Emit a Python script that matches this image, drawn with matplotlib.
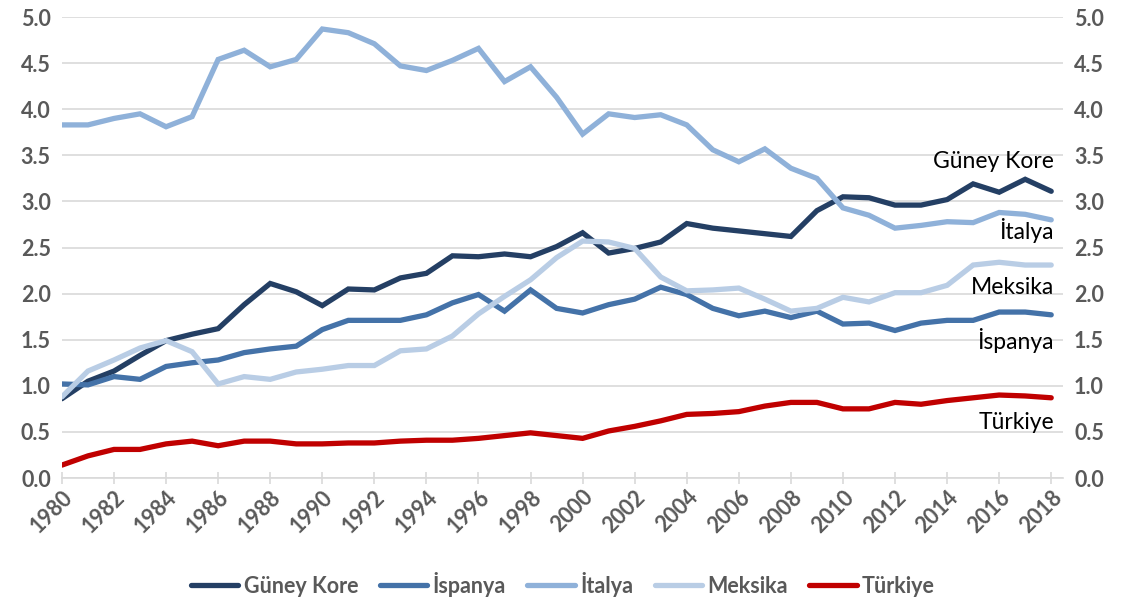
import matplotlib
matplotlib.use("Agg")
import matplotlib.pyplot as plt
from matplotlib.ticker import MultipleLocator, FormatStrFormatter

years = list(range(1980, 2019))

guney_kore = [0.86, 1.05, 1.16, 1.33, 1.49, 1.56, 1.62, 1.88, 2.11, 2.02,
              1.87, 2.05, 2.04, 2.17, 2.22, 2.41, 2.40, 2.43, 2.40, 2.51,
              2.66, 2.44, 2.49, 2.56, 2.76, 2.71, 2.68, 2.65, 2.62, 2.90,
              3.05, 3.04, 2.96, 2.96, 3.02, 3.19, 3.10, 3.24, 3.11]
ispanya = [1.02, 1.01, 1.10, 1.07, 1.21, 1.25, 1.28, 1.36, 1.40, 1.43,
           1.61, 1.71, 1.71, 1.71, 1.77, 1.90, 1.99, 1.81, 2.04, 1.84,
           1.79, 1.88, 1.94, 2.07, 1.99, 1.84, 1.76, 1.81, 1.74, 1.81,
           1.67, 1.68, 1.60, 1.68, 1.71, 1.71, 1.80, 1.80, 1.77]
italya = [3.83, 3.83, 3.90, 3.95, 3.81, 3.92, 4.54, 4.64, 4.46, 4.54,
          4.87, 4.83, 4.71, 4.47, 4.42, 4.53, 4.66, 4.30, 4.46, 4.13,
          3.73, 3.95, 3.91, 3.94, 3.83, 3.56, 3.43, 3.57, 3.36, 3.25,
          2.93, 2.85, 2.71, 2.74, 2.78, 2.77, 2.88, 2.86, 2.80]
meksika = [0.88, 1.16, 1.28, 1.41, 1.49, 1.37, 1.02, 1.10, 1.07, 1.15,
           1.18, 1.22, 1.22, 1.38, 1.40, 1.54, 1.78, 1.97, 2.15, 2.39,
           2.57, 2.56, 2.49, 2.18, 2.03, 2.04, 2.06, 1.94, 1.81, 1.84,
           1.96, 1.91, 2.01, 2.01, 2.09, 2.31, 2.34, 2.31, 2.31]
turkiye = [0.14, 0.24, 0.31, 0.31, 0.37, 0.40, 0.35, 0.40, 0.40, 0.37,
           0.37, 0.38, 0.38, 0.40, 0.41, 0.41, 0.43, 0.46, 0.49, 0.46,
           0.43, 0.51, 0.56, 0.62, 0.69, 0.70, 0.72, 0.78, 0.82, 0.82,
           0.75, 0.75, 0.82, 0.80, 0.84, 0.87, 0.90, 0.89, 0.87]

series_names = ["Güney Kore", "İspanya", "İtalya", "Meksika", "Türkiye"]
series_values = [guney_kore, ispanya, italya, meksika, turkiye]
series_colors = ["#243F64", "#4472A8", "#8FB1D9", "#B9CDE5", "#C00000"]

# end labels: (text, y position)
end_labels = [("Güney Kore", 3.43), ("İtalya", 2.68), ("Meksika", 2.07),
              ("İspanya", 1.49), ("Türkiye", 0.60)]

plt.rcParams['font.family'] = ['Lato', 'DejaVu Sans']
tick_color = "#595959"
grid_color = "#D9D9D9"

fig = plt.figure(figsize=(11.26, 6.04), dpi=100)
ax = fig.add_axes([0.055, 0.2086, 0.889, 0.7632])

for name, vals, col in zip(series_names, series_values, series_colors):
    ax.plot(years, vals, color=col, lw=3.8, label=name, solid_capstyle='round',
            solid_joinstyle='miter')

ax.set_xlim(1980, 2018.45)
ax.set_ylim(0, 5.0)
ax.yaxis.set_major_locator(MultipleLocator(0.5))
ax.yaxis.set_major_formatter(FormatStrFormatter('%.1f'))
ax.set_xticks(years[::2])
ax.grid(axis='y', color=grid_color, lw=1.2)
ax.set_axisbelow(True)
for s in ['top', 'right', 'left']:
    ax.spines[s].set_visible(False)
ax.spines['bottom'].set_color(grid_color)
ax.spines['bottom'].set_linewidth(1.2)

ax.tick_params(axis='y', length=0, labelsize=15.5, labelcolor=tick_color,
               left=True, right=False, labelleft=True, labelright=True, pad=8)
ax.tick_params(axis='x', length=8, direction='inout', color=grid_color, width=1.2,
               labelsize=15.5, labelcolor=tick_color, pad=2)
for lab in ax.get_yticklabels() + ax.get_xticklabels():
    lab.set_fontweight('bold')
for lab in ax.get_xticklabels():
    lab.set_rotation(45)
    lab.set_ha('right')
    lab.set_rotation_mode('anchor')

for txt, yv in end_labels:
    ax.text(2018.1, yv, txt, ha='right', va='center', fontsize=16.5, color='black')

leg = fig.legend(loc='lower center', bbox_to_anchor=(0.5, -0.02), ncol=5,
                 frameon=False, handlelength=2.2, columnspacing=1.0,
                 handletextpad=0.25, prop={'size': 15.5, 'weight': 'bold'})
for t in leg.get_texts():
    t.set_color(tick_color)

fig.savefig("out.png", dpi=100)
